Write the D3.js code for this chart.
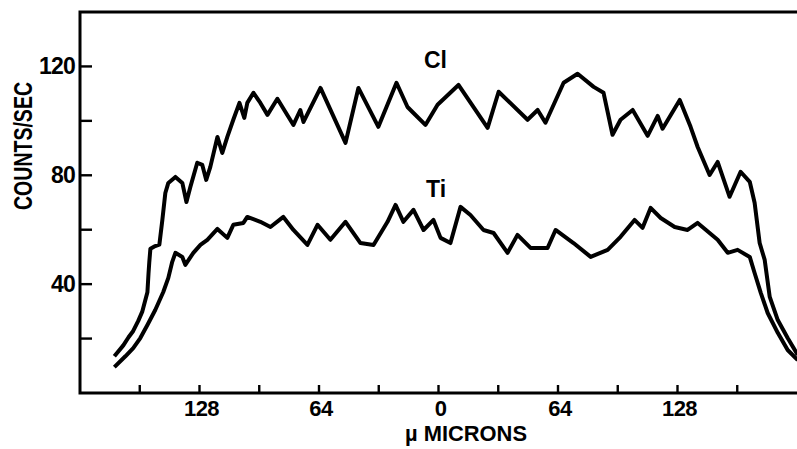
<!DOCTYPE html>
<html>
<head>
<meta charset="utf-8">
<script src="https://d3js.org/d3.v7.min.js"></script>
<style>
  body { margin: 0; background: #fff; }
  text { font-family: "Liberation Sans", Arial, sans-serif; fill: #000; font-weight: bold; }
</style>
</head>
<body>
<div id="chart"></div>
<script>
// scan positions in microns (0 = centre of the scan)
var cl_x = [-173.6, -168.8, -166, -163.5, -160.8, -158.6, -155.9, -155.3, -154.9, -154.3, -151.7, -149.5, -147.9, -146.3, -144.7,
    -140.9, -137.2, -135.0, -132.9, -129.2, -126.5, -124.4, -122.2, -118.4, -115.8, -113.1, -109.9, -106.6, -104.0,
    -102.4, -99.1, -95.4, -91.6, -86.3, -77.7, -74.0, -72.3, -63.2, -49.8, -42.9, -32.2, -22.5, -16.6, -13.4, -7.0,
    -0.5, 10.7, 26.3, 32.2, 47.7, 53.1, 57.3, 67.0, 74.5, 83.1, 88.4, 93.2, 97.5, 104.0, 112.0, 117.4, 120.0, 129.2,
    135.0, 138.8, 145.2, 149.5, 155.9, 161.8, 166.7, 169.3, 172.0, 174.7, 177.4, 181.7, 187.0, 192.4];
var cl_counts = [13.5, 17.5, 20.5, 22.8, 26.5, 30, 37, 44, 48, 53, 54, 54.5, 63.6, 73.5, 77.2,
    79.4, 77.2, 70.2, 75.7, 84.6, 83.8, 78.3, 83.1, 94.1, 88.2, 94.1, 100.4, 106.6, 101.1,
    106.6, 110.3, 106.6, 102.2, 108.1, 98.5, 104.0, 99.6, 112.1, 91.9, 112.1, 97.8, 114.0, 105.1, 102.9, 98.5,
    105.9, 113.2, 97.4, 110.7, 100.4, 104.0, 99.3, 114.0, 117.3, 112.5, 110.3, 94.9, 100.4, 104.0, 94.5, 101.8, 97.1, 107.7,
    97.8, 90.4, 80.1, 84.9, 72.1, 81.3, 77.6, 69.9, 55.1, 48.9, 35.3, 26.8, 20.2, 14.0];

var ti_x = [-173.6, -167.7, -163.5, -159.7, -155.9, -151.7, -147.4, -144.7, -142.6, -140.9, -137.2, -135.6, -131.3, -127.5,
    -123.8, -118.4, -113.1, -109.9, -104.5, -102.4, -95.4, -90.0, -83.1, -77.7, -70.2, -64.8, -57.9, -49.8, -41.8,
    -34.8, -27.3, -23.0, -18.8, -13.4, -8.0, -2.7, 1.1, 6.4, 11.8, 17.1, 24.1, 29.5, 37.0, 42.3, 49.3, 58.4, 62.7,
    72.3, 81.5, 90.6, 97.5, 105.0, 109.3, 113.6, 119.0, 126.5, 133.4, 138.8, 149.5, 154.9, 160.2, 166.7, 169.3,
    172.6, 176.3, 181.7, 187.0, 192.4];
var ti_counts = [9.5, 13.5, 16.5, 20.2, 25.0, 30.5, 37.1, 42.3, 48.2, 51.5, 50.0, 47.1, 51.5, 54.4,
    56.3, 60.3, 57.0, 61.8, 62.5, 64.7, 62.9, 61.0, 64.7, 59.9, 54.4, 61.8, 56.3, 62.9, 55.1,
    54.4, 62.9, 69.1, 62.9, 67.3, 59.9, 63.6, 57.0, 55.1, 68.4, 65.4, 59.9, 58.8, 51.5, 58.1, 53.3, 53.3, 59.9,
    55.1, 50.0, 52.6, 57.4, 63.6, 60.7, 68.0, 64.3, 61.0, 59.9, 62.5, 56.3, 51.5, 52.6, 50.0, 44.1,
    36.8, 29.4, 22.1, 15.8, 12.1];

var y_ticks = [20, 40, 60, 80, 100, 120];
var y_labels = [40, 80, 120];
var x_ticks = [-160, -128, -96, -64, -32, 0, 32, 64, 96, 128, 160];
var x_labels = [-128, -64, 0, 64, 128];

var width = 797, height = 449;
var margin = {top: 12, right: 0, bottom: 56, left: 80};

var xScale = d3.scaleLinear()
    .domain([-192, 192])
    .range([margin.left, width - margin.right]);

var yScale = d3.scaleLinear()
    .domain([0, 140])
    .range([height - margin.bottom, margin.top]);

var svg = d3.select("#chart")
    .append("svg")
    .attr("width", width)
    .attr("height", height);

var x0 = xScale.range()[0], x1 = xScale.range()[1];
var y0 = yScale.range()[0], y1 = yScale.range()[1];

// frame: left, bottom, top
svg.append("path")
    .attr("d", "M" + x1 + "," + y1 + "H" + x0 + "V" + y0 + "H" + x1)
    .attr("fill", "none")
    .attr("stroke", "#000")
    .attr("stroke-width", 3);

// y ticks point inward
svg.selectAll(".ytick")
    .data(y_ticks)
    .enter()
    .append("line")
    .attr("x1", x0)
    .attr("x2", x0 + 12)
    .attr("y1", d => yScale(d))
    .attr("y2", d => yScale(d))
    .attr("stroke", "#000")
    .attr("stroke-width", 2.4);

svg.selectAll(".ylab")
    .data(y_labels)
    .enter()
    .append("text")
    .attr("x", x0 - 5)
    .attr("y", d => yScale(d) + 8)
    .attr("text-anchor", "end")
    .style("font-size", "23px")
    .style("letter-spacing", "-0.8px")
    .text(d => d);

svg.selectAll(".xtick")
    .data(x_ticks)
    .enter()
    .append("line")
    .attr("x1", d => xScale(d))
    .attr("x2", d => xScale(d))
    .attr("y1", y0)
    .attr("y2", y0 - 8)
    .attr("stroke", "#000")
    .attr("stroke-width", 2.4);

svg.selectAll(".xlab")
    .data(x_labels)
    .enter()
    .append("text")
    .attr("x", d => xScale(d) + 2)
    .attr("y", y0 + 23)
    .attr("text-anchor", "middle")
    .style("font-size", "22px")
    .style("letter-spacing", "-0.6px")
    .text(d => Math.abs(d));

// axis titles
svg.append("text")
    .attr("transform", "translate(32,146) rotate(-90)")
    .attr("text-anchor", "middle")
    .attr("textLength", 128)
    .attr("lengthAdjust", "spacingAndGlyphs")
    .style("font-size", "25px")
    .text("COUNTS/SEC");

svg.append("text")
    .attr("x", 405)
    .attr("y", 441)
    .attr("textLength", 122)
    .attr("lengthAdjust", "spacingAndGlyphs")
    .style("font-size", "22px")
    .text("\u00b5 MICRONS");

// curves
var line = d3.line()
    .x(d => xScale(d[0]))
    .y(d => yScale(d[1]));

var cl_data = d3.zip(cl_x, cl_counts);
var ti_data = d3.zip(ti_x, ti_counts);

[cl_data, ti_data].forEach(function(series){
    svg.append("path")
        .datum(series)
        .attr("d", line)
        .attr("fill", "none")
        .attr("stroke", "#000")
        .attr("stroke-width", 4)
        .attr("stroke-linejoin", "round");
});

// curve labels
svg.append("text")
    .attr("x", 424)
    .attr("y", 68)
    .style("font-size", "23px")
    .text("Cl");

svg.append("text")
    .attr("x", 426)
    .attr("y", 197)
    .style("font-size", "23px")
    .text("Ti");
</script>
</body>
</html>
